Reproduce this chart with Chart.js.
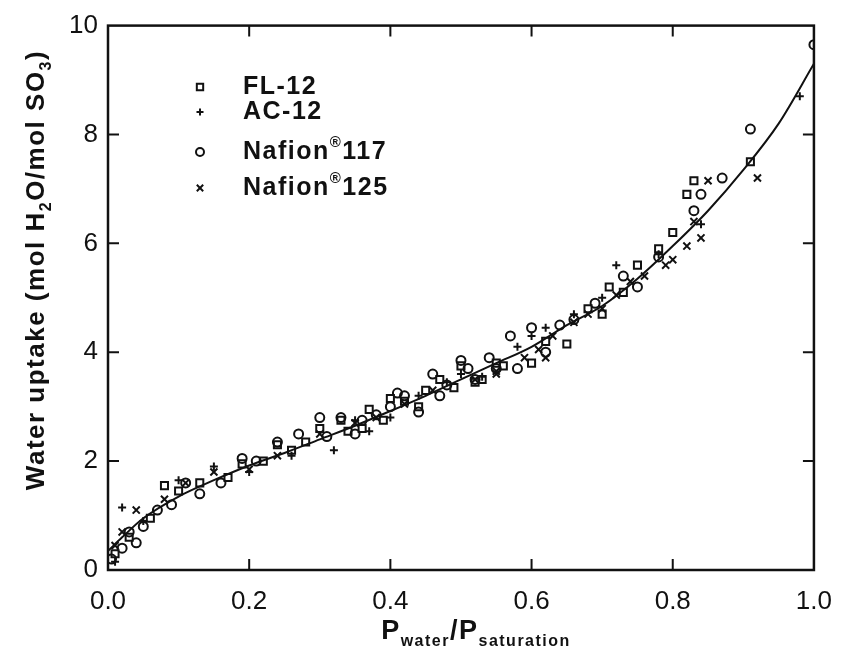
<!DOCTYPE html>
<html>
<head>
<meta charset="utf-8">
<script src="https://cdn.jsdelivr.net/npm/chart.js@4.4.1/dist/chart.umd.min.js"></script>
<style>
  body { margin: 0; background: #fff; }
  #wrap { width: 848px; height: 670px; position: relative; }
</style>
</head>
<body>
<div id="wrap"><canvas id="uptakeChart"></canvas></div>
<script>
// fitted curve
const curveX = [0.0, 0.02, 0.05, 0.1, 0.15, 0.2, 0.25, 0.3, 0.35, 0.4, 0.45, 0.5, 0.55, 0.6, 0.65, 0.7, 0.75, 0.8, 0.85, 0.9, 0.95, 1.0];
const curveY = [0.35, 0.6, 0.95, 1.35, 1.65, 1.92, 2.15, 2.4, 2.65, 2.92, 3.2, 3.5, 3.8, 4.1, 4.5, 4.85, 5.35, 5.95, 6.6, 7.35, 8.2, 9.3];

// FL-12 (squares)
const fl12X = [0.01, 0.03, 0.06, 0.08, 0.10, 0.13, 0.17, 0.19, 0.22, 0.24, 0.26, 0.28, 0.30, 0.33, 0.34, 0.36, 0.37, 0.39, 0.40, 0.42, 0.44, 0.45, 0.47, 0.49, 0.50, 0.52, 0.53, 0.55, 0.56, 0.60, 0.62, 0.65, 0.68, 0.70, 0.71, 0.73, 0.75, 0.78, 0.80, 0.82, 0.83, 0.91];
const fl12Y = [0.3, 0.6, 0.95, 1.55, 1.45, 1.6, 1.7, 1.95, 2.0, 2.3, 2.2, 2.35, 2.6, 2.75, 2.55, 2.6, 2.95, 2.75, 3.15, 3.1, 3.0, 3.3, 3.5, 3.35, 3.75, 3.45, 3.5, 3.8, 3.75, 3.8, 4.2, 4.15, 4.8, 4.7, 5.2, 5.1, 5.6, 5.9, 6.2, 6.9, 7.15, 7.5];

// AC-12 (plus)
const ac12X = [0.01, 0.02, 0.05, 0.10, 0.15, 0.20, 0.26, 0.32, 0.35, 0.37, 0.40, 0.44, 0.48, 0.50, 0.53, 0.58, 0.60, 0.62, 0.66, 0.70, 0.72, 0.78, 0.84, 0.98];
const ac12Y = [0.15, 1.15, 0.9, 1.65, 1.9, 1.8, 2.1, 2.2, 2.75, 2.55, 2.8, 3.2, 3.45, 3.6, 3.55, 4.1, 4.3, 4.45, 4.7, 5.0, 5.6, 5.8, 6.35, 8.7];

// Nafion 117 (circles)
const n117X = [0.005, 0.02, 0.03, 0.04, 0.05, 0.07, 0.09, 0.11, 0.13, 0.16, 0.19, 0.21, 0.24, 0.27, 0.30, 0.31, 0.33, 0.35, 0.36, 0.38, 0.40, 0.41, 0.42, 0.44, 0.46, 0.47, 0.48, 0.50, 0.51, 0.52, 0.54, 0.55, 0.57, 0.58, 0.60, 0.62, 0.64, 0.66, 0.69, 0.73, 0.75, 0.78, 0.83, 0.84, 0.87, 0.91, 1.0];
const n117Y = [0.2, 0.4, 0.7, 0.5, 0.8, 1.1, 1.2, 1.6, 1.4, 1.6, 2.05, 2.0, 2.35, 2.5, 2.8, 2.45, 2.8, 2.5, 2.75, 2.85, 3.0, 3.25, 3.2, 2.9, 3.6, 3.2, 3.4, 3.85, 3.7, 3.5, 3.9, 3.7, 4.3, 3.7, 4.45, 4.0, 4.5, 4.6, 4.9, 5.4, 5.2, 5.75, 6.6, 6.9, 7.2, 8.1, 9.65];

// Nafion 125 (crosses)
const n125X = [0.01, 0.02, 0.04, 0.08, 0.11, 0.15, 0.20, 0.24, 0.30, 0.35, 0.38, 0.42, 0.46, 0.52, 0.55, 0.55, 0.59, 0.61, 0.62, 0.63, 0.66, 0.68, 0.70, 0.72, 0.74, 0.76, 0.79, 0.80, 0.82, 0.83, 0.84, 0.85, 0.92];
const n125Y = [0.45, 0.7, 1.1, 1.3, 1.6, 1.8, 1.85, 2.1, 2.5, 2.7, 2.8, 3.05, 3.3, 3.5, 3.6, 3.65, 3.9, 4.05, 3.9, 4.3, 4.55, 4.7, 4.8, 5.05, 5.3, 5.4, 5.6, 5.7, 5.95, 6.4, 6.1, 7.15, 7.2];

const xTicks = [0.0, 0.2, 0.4, 0.6, 0.8, 1.0];
const yTicks = [0, 2, 4, 6, 8, 10];

const legendNames = [["FL-12"], ["AC-12"], ["Nafion", "®", "117"], ["Nafion", "®", "125"]];

const INK = "#111";

function pts(xs, ys) {
  return xs.map((x, i) => ({ x: x, y: ys[i] }));
}

function markerSet(label, xs, ys, style, r) {
  return {
    type: "scatter",
    label: label,
    data: pts(xs, ys),
    pointStyle: style,
    pointRadius: r,
    pointBorderWidth: 2,
    borderColor: INK,
    backgroundColor: "rgba(0,0,0,0)"
  };
}

// draws pieces of text, "sub"/"sup" pieces get smaller and shifted
function richText(ctx, parts, x, y, size) {
  let cx = x;
  parts.forEach(p => {
    const small = p.mode === "sub" || p.mode === "sup";
    ctx.font = "bold " + (small ? Math.round(size * 0.6) : size) + "px 'Liberation Sans', Arial, sans-serif";
    const dy = p.mode === "sub" ? size * 0.35 : p.mode === "sup" ? -size * 0.38 : 0;
    ctx.fillText(p.t, cx, y + dy);
    cx += ctx.measureText(p.t).width;
  });
  return cx - x;
}

function measureRich(ctx, parts, size) {
  let w = 0;
  parts.forEach(p => {
    const small = p.mode === "sub" || p.mode === "sup";
    ctx.font = "bold " + (small ? Math.round(size * 0.6) : size) + "px 'Liberation Sans', Arial, sans-serif";
    w += ctx.measureText(p.t).width;
  });
  return w;
}

const framePlugin = {
  id: "frame",
  afterDraw(chart) {
    const ctx = chart.ctx;
    const a = chart.chartArea;
    const xs = chart.scales.x, ys = chart.scales.y;
    ctx.save();
    ctx.strokeStyle = INK;
    ctx.lineWidth = 2.5;
    ctx.strokeRect(a.left, a.top, a.right - a.left, a.bottom - a.top);
    ctx.lineWidth = 2;
    ctx.beginPath();
    xTicks.slice(1, -1).forEach(v => {
      const px = xs.getPixelForValue(v);
      ctx.moveTo(px, a.bottom); ctx.lineTo(px, a.bottom - 11);
      ctx.moveTo(px, a.top); ctx.lineTo(px, a.top + 11);
    });
    yTicks.slice(1, -1).forEach(v => {
      const py = ys.getPixelForValue(v);
      ctx.moveTo(a.left, py); ctx.lineTo(a.left + 11, py);
      ctx.moveTo(a.right, py); ctx.lineTo(a.right - 11, py);
    });
    ctx.stroke();

    // legend
    ctx.textBaseline = "middle";
    ctx.letterSpacing = "1.5px";
    const rowsY = [87, 112, 152, 188];
    const styles = ["rect", "cross", "circle", "crossRot"];
    const radii = [4.5, 3.5, 4, 4.5];
    legendNames.forEach((name, i) => {
      ctx.fillStyle = "rgba(0,0,0,0)";
      ctx.strokeStyle = INK;
      ctx.lineWidth = 2;
      Chart.helpers.drawPoint(ctx, { pointStyle: styles[i], radius: radii[i], borderWidth: 2 }, 200, rowsY[i]);
      ctx.fillStyle = INK;
      const parts = name.length === 1 ? [{ t: name[0] }] : [{ t: name[0] }, { t: name[1], mode: "sup" }, { t: name[2] }];
      richText(ctx, parts, 243, rowsY[i], 25);
    });

    // axis titles
    const xt = [{ t: "P" }, { t: "water", mode: "sub" }, { t: "/P" }, { t: "saturation", mode: "sub" }];
    const xw = measureRich(ctx, xt, 27);
    richText(ctx, xt, 476 - xw / 2, 632, 27);

    const yt = [{ t: "Water uptake (mol H" }, { t: "2", mode: "sub" }, { t: "O/mol SO" }, { t: "3", mode: "sub" }, { t: ")" }];
    ctx.translate(37, 270);
    ctx.rotate(-Math.PI / 2);
    const yw = measureRich(ctx, yt, 26);
    richText(ctx, yt, -yw / 2, 0, 26);
    ctx.restore();
  }
};

new Chart(document.getElementById("uptakeChart"), {
  data: {
    datasets: [
      {
        type: "line",
        label: "fit",
        data: pts(curveX, curveY),
        borderColor: INK,
        borderWidth: 2,
        pointRadius: 0,
        tension: 0.4,
        cubicInterpolationMode: "monotone",
        fill: false
      },
      markerSet("FL-12", fl12X, fl12Y, "rect", 5),
      markerSet("AC-12", ac12X, ac12Y, "cross", 4),
      markerSet("Nafion 117", n117X, n117Y, "circle", 4.5),
      markerSet("Nafion 125", n125X, n125Y, "crossRot", 5)
    ]
  },
  options: {
    responsive: true,
    maintainAspectRatio: false,
    animation: false,
    layout: { padding: { top: 22, right: 31, left: 0, bottom: 0 } },
    plugins: { legend: { display: false }, tooltip: { enabled: false } },
    scales: {
      x: {
        type: "linear",
        min: 0, max: 1,
        afterFit: s => { s.height = 100; },
        afterBuildTicks: s => { s.ticks = xTicks.map(v => ({ value: v })); },
        grid: { display: false, drawTicks: false },
        border: { display: false },
        ticks: {
          color: INK,
          padding: 16,
          font: { family: "'Liberation Sans', Arial, sans-serif", size: 26 },
          callback: v => v.toFixed(1)
        }
      },
      y: {
        type: "linear",
        min: 0, max: 10,
        afterFit: s => { s.width = 108; },
        afterBuildTicks: s => { s.ticks = yTicks.map(v => ({ value: v })); },
        grid: { display: false, drawTicks: false },
        border: { display: false },
        ticks: {
          color: INK,
          padding: 10,
          font: { family: "'Liberation Sans', Arial, sans-serif", size: 26 },
          callback: v => String(v)
        }
      }
    }
  },
  plugins: [framePlugin]
});
</script>
</body>
</html>
